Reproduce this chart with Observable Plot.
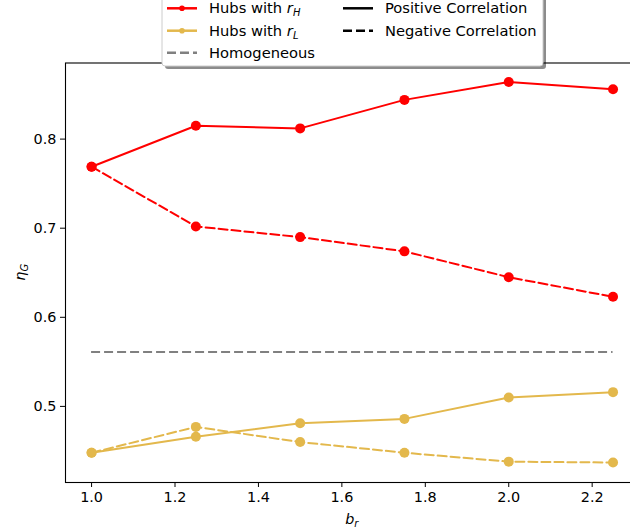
<!DOCTYPE html>
<html>
<head>
<meta charset="utf-8">
<script src="https://cdn.jsdelivr.net/npm/d3@7"></script>
<script src="https://cdn.jsdelivr.net/npm/@observablehq/plot@0.6"></script>
<style>
  html, body { margin: 0; padding: 0; background: white; }
  #chart { position: relative; width: 630px; height: 531px; overflow: hidden; }
  #chart svg.overlay { position: absolute; left: 0; top: 0; pointer-events: none; }
</style>
</head>
<body>
<div id="chart"></div>
<script>
// b_r values on the horizontal axis
const br = [1.0, 1.25, 1.5, 1.75, 2.0, 2.25];
// eta_G for hubs with r_H
const hubsHPositive = [0.769, 0.815, 0.812, 0.844, 0.864, 0.856];
const hubsHNegative = [0.769, 0.702, 0.690, 0.674, 0.645, 0.623];
// eta_G for hubs with r_L
const hubsLPositive = [0.448, 0.466, 0.481, 0.486, 0.510, 0.516];
const hubsLNegative = [0.448, 0.477, 0.460, 0.448, 0.438, 0.437];
// homogeneous reference level
const homogeneous = 0.561;

const xTicks = [1.0, 1.2, 1.4, 1.6, 1.8, 2.0, 2.2];
const yTicks = [0.5, 0.6, 0.7, 0.8];

const RED = "#ff0000";
const GOLD = "#e3b84c";
const GRAY = "#808080";
const DASH = "9,4";

const W = 630, H = 531;
const mL = 65, mR = -8.6, mT = 62.5, mB = 49;

const series = [
  {y: hubsHPositive, color: RED, dash: null},
  {y: hubsHNegative, color: RED, dash: DASH},
  {y: hubsLPositive, color: GOLD, dash: null},
  {y: hubsLNegative, color: GOLD, dash: DASH}
];

const marks = [];
for (const s of series) {
  marks.push(Plot.line(br, {x: br, y: s.y, stroke: s.color, strokeWidth: 2, strokeDasharray: s.dash}));
  marks.push(Plot.dot(br, {x: br, y: s.y, r: 5, fill: s.color, stroke: null}));
}
marks.push(Plot.ruleY([homogeneous], {x1: br[0], x2: br[br.length - 1], stroke: GRAY, strokeWidth: 2, strokeDasharray: DASH}));

const plot = Plot.plot({
  width: W, height: H,
  marginLeft: mL, marginRight: mR, marginTop: mT, marginBottom: mB,
  style: {fontFamily: "DejaVu Sans", fontSize: "14px", background: "white", color: "black", overflow: "hidden"},
  x: {domain: [0.9375, 2.3125]},
  y: {domain: [0.4146, 0.8854]},
  marks: [
    ...marks,
    Plot.frame({stroke: "black", strokeWidth: 1.1}),
    Plot.axisX(xTicks, {tickFormat: d => d.toFixed(1), tickSize: 5, tickPadding: 4, label: null, fontSize: 14.4}),
    Plot.axisY(yTicks, {tickFormat: d => d.toFixed(1), tickSize: 5, tickPadding: 4, label: null, fontSize: 14.4})
  ]
});
document.getElementById("chart").appendChild(plot);

// axis titles with italic symbols and subscripts
const svg = d3.select(plot);
const xl = svg.append("text")
  .attr("x", (mL + (W - mR)) / 2).attr("y", 524)
  .attr("text-anchor", "middle")
  .attr("font-family", "DejaVu Sans").attr("font-size", 14.4).attr("fill", "black");
xl.append("tspan").attr("font-style", "italic").text("b");
xl.append("tspan").attr("font-style", "italic").attr("font-size", 10).attr("dy", 3).text("r");

const yl = svg.append("text")
  .attr("transform", `translate(25,${(mT + (H - mB)) / 2}) rotate(-90)`)
  .attr("text-anchor", "middle")
  .attr("font-family", "DejaVu Sans").attr("font-size", 14.4).attr("fill", "black");
yl.append("tspan").attr("font-style", "italic").text("η");
yl.append("tspan").attr("font-style", "italic").attr("font-size", 10).attr("dy", 3).text("G");

// legend drawn over the top of the plot
const legend = d3.select("#chart").append("svg")
  .attr("class", "overlay")
  .attr("width", W).attr("height", 80)
  .attr("font-family", "DejaVu Sans").attr("font-size", 14.7);

const bx = 162, by = -10, bw = 381, bh = 76;
legend.append("rect").attr("x", bx + 3).attr("y", by + 3).attr("width", bw).attr("height", bh)
  .attr("rx", 3).attr("fill", "rgba(0,0,0,0.45)");
legend.append("rect").attr("x", bx).attr("y", by).attr("width", bw).attr("height", bh)
  .attr("rx", 3).attr("fill", "white").attr("stroke", "#cccccc").attr("stroke-width", 1);

const legendItems = [
  {x: 167, y: 8.3, color: RED, dash: null, dot: true, label: ["Hubs with ", "r", "H"]},
  {x: 167, y: 30.7, color: GOLD, dash: null, dot: true, label: ["Hubs with ", "r", "L"]},
  {x: 167, y: 52.7, color: GRAY, dash: DASH, dot: false, label: ["Homogeneous"]},
  {x: 343, y: 8.3, color: "black", dash: null, dot: false, label: ["Positive Correlation"]},
  {x: 343, y: 30.7, color: "black", dash: DASH, dot: false, label: ["Negative Correlation"]}
];
for (const it of legendItems) {
  legend.append("line")
    .attr("x1", it.x).attr("x2", it.x + 30).attr("y1", it.y).attr("y2", it.y)
    .attr("stroke", it.color).attr("stroke-width", 2.5)
    .attr("stroke-dasharray", it.dash);
  if (it.dot) {
    legend.append("circle").attr("cx", it.x + 15).attr("cy", it.y).attr("r", 2.8).attr("fill", it.color);
  }
  const t = legend.append("text")
    .attr("x", it.x + 42).attr("y", it.y + 5).attr("fill", "black");
  t.append("tspan").text(it.label[0]);
  if (it.label.length > 1) {
    t.append("tspan").attr("font-style", "italic").text(it.label[1]);
    t.append("tspan").attr("font-style", "italic").attr("font-size", 10).attr("dy", 3).text(it.label[2]);
  }
}
</script>
</body>
</html>
